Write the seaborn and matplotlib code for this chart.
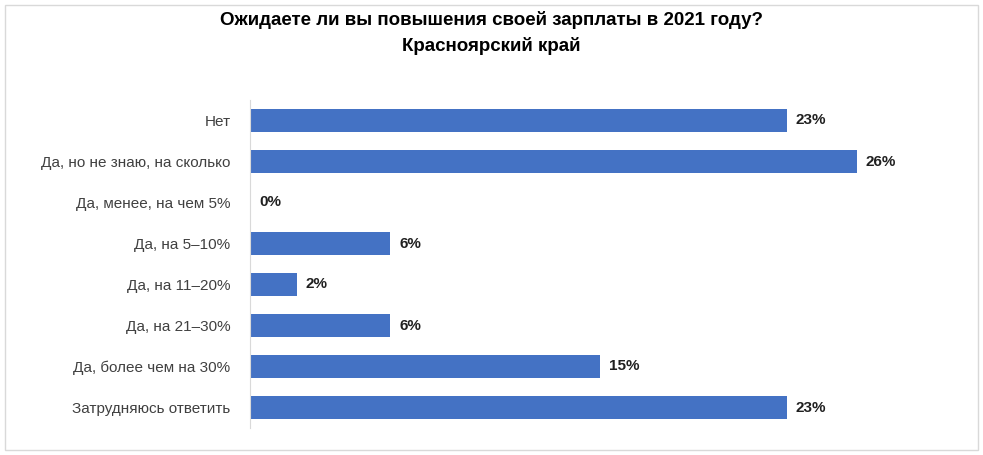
import matplotlib
matplotlib.use("Agg")
import matplotlib.pyplot as plt
import seaborn as sns
import pandas as pd

categories = ["Нет", "Да, но не знаю, на сколько", "Да, менее, на чем 5%", "Да, на 5–10%",
              "Да, на 11–20%", "Да, на 21–30%", "Да, более чем на 30%", "Затрудняюсь ответить"]
values = [23, 26, 0, 6, 2, 6, 15, 23]

plt.rcParams["font.family"] = "Liberation Sans"
df = pd.DataFrame({"cat": categories, "val": values})

fig = plt.figure(figsize=(9.83, 4.55), dpi=100)
ax = fig.add_axes([250/983, 1-428/455, 700/983, 328/455])
sns.barplot(data=df, y="cat", x="val", color="#4472C4", saturation=1, width=0.54, ax=ax)
ax.set_xlim(0, 30)
ax.set_ylim(7.5, -0.5)
ax.set_xticks([])
ax.set_xlabel("")
ax.set_ylabel("")
for s in ["top", "right", "bottom"]:
    ax.spines[s].set_visible(False)
ax.spines["left"].set_color("#d9d9d9")
ax.tick_params(axis="y", length=0, pad=14, labelsize=11, colors="#404040")
for i, v in enumerate(values):
    ax.text(v + 0.4, i, f"{v}%", va="center", ha="left", fontsize=11, fontweight="bold", color="#202020")

fig.text(0.5, 1-33/455, "Ожидаете ли вы повышения своей зарплаты в 2021 году?\nКрасноярский край",
         ha="center", va="center", fontsize=13.5, fontweight="bold", linespacing=1.6)
fig.patches.append(plt.Rectangle((5/983, 5/455), 973/983, 445/455, transform=fig.transFigure,
                                 fill=False, edgecolor="#d9d9d9", lw=1))
fig.savefig("out.png", dpi=100)
